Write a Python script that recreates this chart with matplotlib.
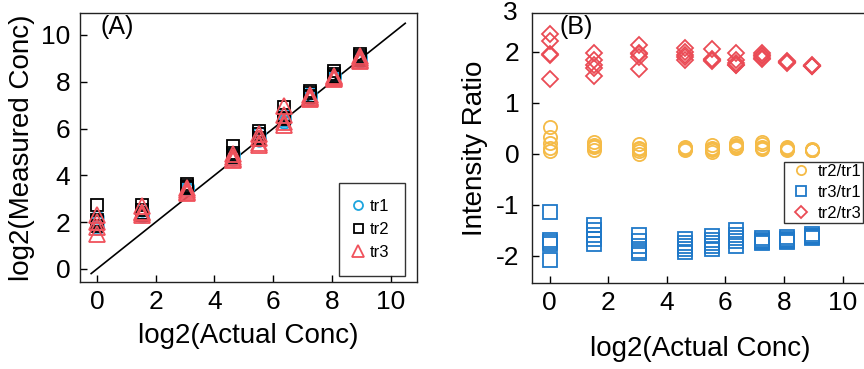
import numpy as np
import matplotlib
matplotlib.use("Agg")
import matplotlib.pyplot as plt

plt.rcParams['font.family'] = ['Liberation Sans', 'DejaVu Sans']
plt.rcParams['axes.unicode_minus'] = False

# log2 of actual concentration (shared by both panels)
actual = [0, 1.52, 3.06, 4.63, 5.53, 6.38, 7.25, 8.09, 8.95]

# Panel A: log2 measured concentration, 4 replicates per level
tr1 = [[2.2, 2.0, 1.85, 1.75], [2.5, 2.4, 2.3, 2.25], [3.55, 3.5, 3.45, 3.4],
       [4.95, 4.85, 4.8, 4.7], [5.8, 5.65, 5.55, 5.5], [6.6, 6.45, 6.35, 6.3],
       [7.5, 7.4, 7.35, 7.3], [8.35, 8.25, 8.2, 8.15], [9.1, 9.0, 8.95, 8.9]]
tr2 = [[2.75, 2.1, 2.0, 1.85], [2.75, 2.5, 2.4, 2.3], [3.65, 3.55, 3.5, 3.45],
       [5.25, 4.95, 4.85, 4.8], [5.9, 5.75, 5.6, 5.5], [6.9, 6.6, 6.45, 6.4],
       [7.6, 7.5, 7.4, 7.35], [8.45, 8.35, 8.25, 8.2], [9.2, 9.1, 9.0, 8.95]]
tr3 = [[2.3, 2.0, 1.8, 1.5], [2.7, 2.45, 2.4, 2.3], [3.45, 3.38, 3.3, 3.25],
       [4.9, 4.8, 4.7, 4.65], [5.75, 5.6, 5.4, 5.3], [6.95, 6.6, 6.3, 6.15],
       [7.45, 7.35, 7.3, 7.25], [8.25, 8.2, 8.15, 8.1], [9.1, 9.0, 8.95, 8.9]]
identity_line = [-0.2, 10.5]

# Panel B: log2 intensity ratios, 5 replicates per level
r21 = [[0.52, 0.33, 0.22, 0.12, 0.06], [0.24, 0.18, 0.15, 0.13, 0.08],
       [0.2, 0.12, 0.1, 0.05, 0.0], [0.13, 0.12, 0.11, 0.1, 0.08],
       [0.18, 0.12, 0.1, 0.08, 0.03], [0.22, 0.18, 0.16, 0.14, 0.12],
       [0.24, 0.2, 0.14, 0.12, 0.1], [0.14, 0.12, 0.1, 0.1, 0.08],
       [0.09, 0.08, 0.08, 0.07, 0.07]]
r31 = [[-1.13, -1.68, -1.72, -1.76, -2.07], [-1.4, -1.5, -1.58, -1.66, -1.76],
       [-1.58, -1.7, -1.8, -1.9, -1.95], [-1.67, -1.74, -1.8, -1.86, -1.92],
       [-1.6, -1.68, -1.74, -1.8, -1.86], [-1.5, -1.58, -1.64, -1.7, -1.8],
       [-1.65, -1.68, -1.7, -1.72, -1.74], [-1.63, -1.66, -1.68, -1.7, -1.72],
       [-1.57, -1.6, -1.6, -1.63, -1.65]]
r23 = [[2.35, 2.22, 1.95, 1.93, 1.47], [1.97, 1.84, 1.75, 1.68, 1.53],
       [2.14, 1.97, 1.95, 1.9, 1.66], [2.07, 2.0, 1.94, 1.9, 1.84],
       [2.05, 1.85, 1.84, 1.83, 1.82], [1.97, 1.84, 1.78, 1.75, 1.75],
       [1.97, 1.93, 1.91, 1.88, 1.86], [1.82, 1.81, 1.8, 1.8, 1.79],
       [1.74, 1.73, 1.73, 1.72, 1.72]]

C_TR1 = '#1ea5de'
C_TR3 = '#f0525c'
C_ORANGE = '#f5bb47'
C_BLUE = '#1f78c8'
C_RED = '#ea4b55'


def flatten(xs, groups):
    xx, yy = [], []
    for x, g in zip(xs, groups):
        xx += [x] * len(g)
        yy += list(g)
    return xx, yy


def style_axes(ax):
    for s in ax.spines.values():
        s.set_color('#222222')
        s.set_linewidth(1.0)
    ax.tick_params(direction='in', length=5, width=1, labelsize=19,
                   top=False, right=False)


fig = plt.figure(figsize=(8.64, 3.69), dpi=100)

# ---- Panel A
axA = fig.add_axes([0.0926, 0.2358, 0.3900, 0.7290])
axA.plot(identity_line, identity_line, color='black', lw=1.2, zorder=1)
for data, mk, col, ms, lab in [(tr1, 'o', C_TR1, 9, 'tr1'),
                               (tr2, 's', 'black', 9, 'tr2'),
                               (tr3, '^', C_TR3, 12, 'tr3')]:
    xx, yy = flatten(actual, data)
    axA.plot(xx, yy, ls='none', marker=mk, ms=ms, mfc='none', mec=col,
             mew=1.3, label=lab, zorder=3)
axA.set_xlim(-0.58, 10.9)
axA.set_ylim(-0.56, 10.94)
axA.set_xticks([0, 2, 4, 6, 8, 10])
axA.set_yticks([0, 2, 4, 6, 8, 10])
style_axes(axA)
axA.tick_params(axis='y', pad=7)
axA.tick_params(axis='x', pad=6)
axA.set_xlabel('log2(Actual Conc)', fontsize=20, labelpad=6)
axA.set_ylabel('log2(Measured Conc)', fontsize=20, labelpad=4)
axA.text(0.06, 0.948, '(A)', transform=axA.transAxes, fontsize=18,
         va='center', ha='left')
legA = axA.legend(loc='lower right', bbox_to_anchor=(0.964, 0.022),
                  borderaxespad=0, fontsize=12, fancybox=False,
                  edgecolor='black', labelspacing=0.5, handletextpad=0.55,
                  borderpad=0.95, handlelength=0.3, markerscale=0.72)
legA.get_frame().set_linewidth(1.0)

# ---- Panel B
axB = fig.add_axes([0.6157, 0.2330, 0.3900, 0.7317])
for data, mk, col, ms, lab in [(r21, 'o', C_ORANGE, 9.5, 'tr2/tr1'),
                               (r31, 's', C_BLUE, 9.5, 'tr3/tr1'),
                               (r23, 'D', C_RED, 8.5, 'tr2/tr3')]:
    xx, yy = flatten(actual, data)
    axB.plot(xx, yy, ls='none', marker=mk, ms=ms, mfc='none', mec=col,
             mew=1.3, label=lab)
axB.set_xlim(-0.6, 10.9)
axB.set_ylim(-2.53, 2.76)
axB.set_xticks([0, 2, 4, 6, 8, 10])
axB.set_yticks([-2, -1, 0, 1, 2])
style_axes(axB)
axB.tick_params(axis='y', pad=9)
axB.tick_params(axis='x', pad=6)
axB.text(-0.0425, 1.0, '3', transform=axB.transAxes, fontsize=19,
         ha='right', va='center')
axB.set_xlabel('log2(Actual Conc)', fontsize=20, labelpad=15)
axB.set_ylabel('Intensity Ratio', fontsize=20, labelpad=6)
axB.text(0.083, 0.948, '(B)', transform=axB.transAxes, fontsize=18,
         va='center', ha='left')
legB = axB.legend(loc='upper left', bbox_to_anchor=(0.748, 0.448),
                  borderaxespad=0, fontsize=12, fancybox=False,
                  edgecolor='black', labelspacing=0.37, handletextpad=0.1,
                  borderpad=0.1, handlelength=1.8, markerscale=0.7)
legB.get_frame().set_linewidth(1.0)

fig.savefig('out.png', dpi=100)
